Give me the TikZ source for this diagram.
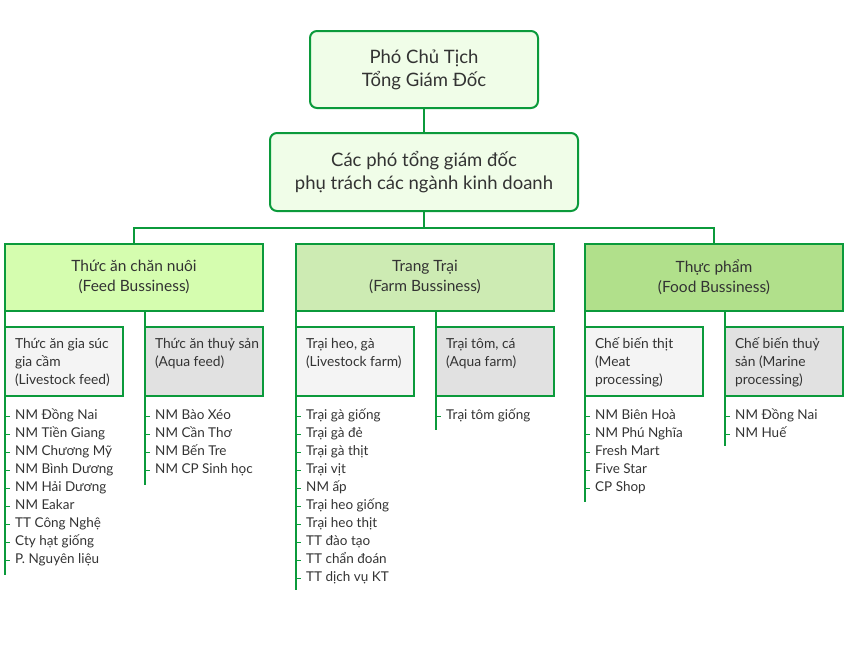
\documentclass[tikz,border=0pt]{standalone}
\usepackage{fontspec}
\setmainfont{Lato}

\definecolor{linegreen}{HTML}{0B9A3B}
\definecolor{topfill}{HTML}{F0FDE8}
\definecolor{feedfill}{HTML}{D5FDAF}
\definecolor{farmfill}{HTML}{CDEBB3}
\definecolor{foodfill}{HTML}{B1E08B}
\definecolor{lightfill}{HTML}{F4F4F4}
\definecolor{grayfill}{HTML}{E1E1E1}
\definecolor{txt}{HTML}{333333}

\tikzset{
  link/.style={draw=linegreen, line width=2pt},
  tick/.style={draw=linegreen, line width=1pt},
  topbox/.style={draw=linegreen, line width=2pt, rounded corners=7pt, fill=topfill,
    align=center, text=txt, inner sep=0pt, outer sep=0pt,
    font=\fontsize{18.5}{23}\selectfont},
  bizbox/.style={draw=linegreen, line width=2pt, align=center, text=txt,
    minimum width=258, minimum height=67, inner sep=0pt, outer sep=0pt,
    font=\fontsize{15.5}{20}\selectfont},
  subbox/.style={draw=linegreen, line width=2pt, anchor=north west, text=txt,
    minimum width=118, minimum height=69, inner sep=0pt, outer sep=0pt,
    font=\fontsize{13.8}{18}\selectfont,
    execute at begin node={\begin{minipage}[c][51pt][t]{110pt}\raggedright\leftskip=6pt\strut},
    execute at end node={\end{minipage}}},
  item/.style={anchor=west, text=txt, inner sep=0pt, text height=9.5, text depth=3,
    font=\fontsize{13.5}{18}\selectfont}
}

\begin{document}
\begin{tikzpicture}[x=1pt,y=-1pt]
\useasboundingbox (0,0) rectangle (848,662);

% the two boxes on top
\node[topbox, minimum width=228, minimum height=77] (ceo) at (424,69.5) {Phó Chủ Tịch\\Tổng Giám Đốc};
\node[topbox, minimum width=308, minimum height=78] (board) at (424,172) {Các phó tổng giám đốc\\phụ trách các ngành kinh doanh};
\draw[link] (ceo) -- (board);

% the three businesses
\node[bizbox, fill=feedfill] (feed) at (134,277) {Thức ăn chăn nuôi\\(Feed Bussiness)};
\node[bizbox, fill=farmfill] (farm) at (425,277) {Trang Trại\\(Farm Bussiness)};
\node[bizbox, fill=foodfill] (food) at (714,277) {Thực phẩm\\(Food Bussiness)};
\draw[link] (board.south) -- ++(0,17) coordinate (bus);
\draw[link] (feed.north) |- (bus) -| (food.north);

% Feed
\node[subbox, fill=lightfill] (feedA) at (5,327) {Thức ăn gia súc\\gia cầm\\(Livestock feed)};
\node[subbox, fill=grayfill] (feedB) at (145,327) {Thức ăn thuỷ sản\\(Aqua feed)};
\coordinate (feedAend) at (5,575);
\coordinate (feedBend) at (145,485);
\draw[link] (feed.south west) -- (feedAend);
\draw[link] (feedB.north west |- feed.south) -- (feedBend);
\foreach \t [count=\i] in {NM Đồng Nai, NM Tiền Giang, NM Chương Mỹ, NM Bình Dương, NM Hải Dương,
    NM Eakar, TT Công Nghệ, Cty hạt giống, P. Nguyên liệu}{
  \node[item] (feedA\i) at (15,398+18*\i) {\t};
  \draw[tick] (feedA.west |- feedA\i.west) -- ++(5,0);
}
\foreach \t [count=\i] in {NM Bào Xéo, NM Cần Thơ, NM Bến Tre, NM CP Sinh học}{
  \node[item] (feedB\i) at (155,398+18*\i) {\t};
  \draw[tick] (feedB.west |- feedB\i.west) -- ++(5,0);
}

% Farm
\node[subbox, fill=lightfill] (farmA) at (296,327) {Trại heo, gà\\(Livestock farm)};
\node[subbox, fill=grayfill] (farmB) at (436,327) {Trại tôm, cá\\(Aqua farm)};
\coordinate (farmAend) at (296,590);
\coordinate (farmBend) at (436,430);
\draw[link] (farm.south west) -- (farmAend);
\draw[link] (farmB.north west |- farm.south) -- (farmBend);
\foreach \t [count=\i] in {Trại gà giống, Trại gà đẻ, Trại gà thịt, Trại vịt, NM ấp,
    Trại heo giống, Trại heo thịt, TT đào tạo, TT chẩn đoán, TT dịch vụ KT}{
  \node[item] (farmA\i) at (306,398+18*\i) {\t};
  \draw[tick] (farmA.west |- farmA\i.west) -- ++(5,0);
}
\foreach \t [count=\i] in {Trại tôm giống}{
  \node[item] (farmB\i) at (446,398+18*\i) {\t};
  \draw[tick] (farmB.west |- farmB\i.west) -- ++(5,0);
}

% Food
\node[subbox, fill=lightfill] (foodA) at (585,327) {Chế biến thịt\\(Meat\\processing)};
\node[subbox, fill=grayfill] (foodB) at (725,327) {Chế biến thuỷ\\sản (Marine\\processing)};
\coordinate (foodAend) at (585,502);
\coordinate (foodBend) at (725,446);
\draw[link] (food.south west) -- (foodAend);
\draw[link] (foodB.north west |- food.south) -- (foodBend);
\foreach \t [count=\i] in {NM Biên Hoà, NM Phú Nghĩa, Fresh Mart, Five Star, CP Shop}{
  \node[item] (foodA\i) at (595,398+18*\i) {\t};
  \draw[tick] (foodA.west |- foodA\i.west) -- ++(5,0);
}
\foreach \t [count=\i] in {NM Đồng Nai, NM Huế}{
  \node[item] (foodB\i) at (735,398+18*\i) {\t};
  \draw[tick] (foodB.west |- foodB\i.west) -- ++(5,0);
}
\end{tikzpicture}
\end{document}
